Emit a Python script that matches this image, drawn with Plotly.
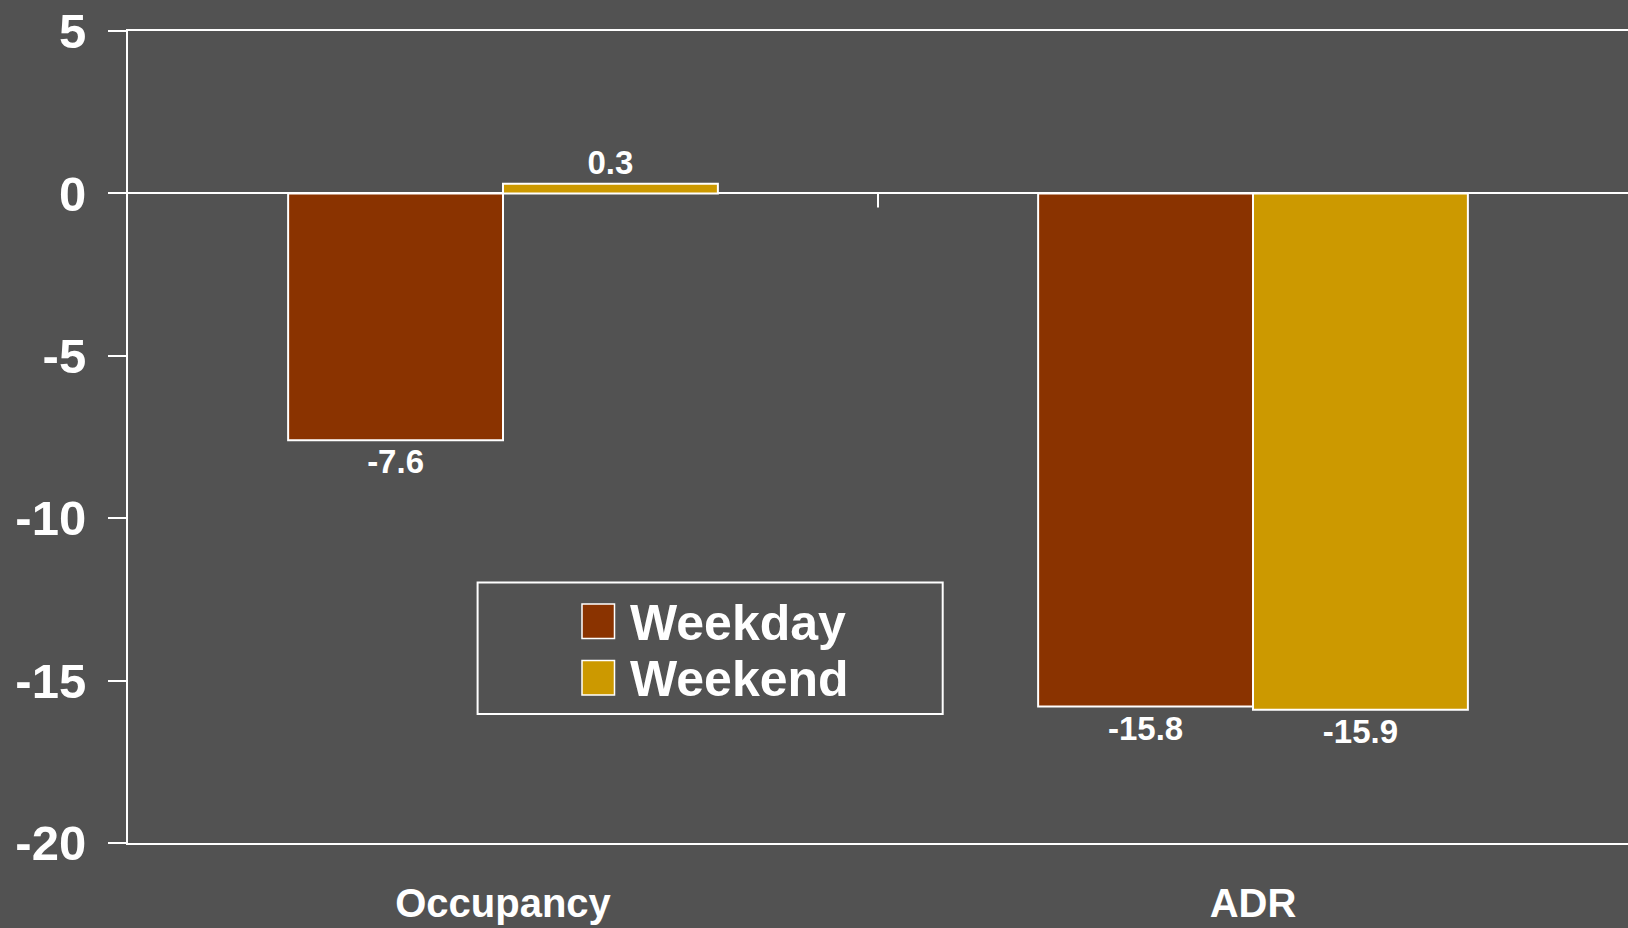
import plotly.graph_objects as go

categories = ["Occupancy", "ADR"]
series_names = ["Weekday", "Weekend"]
weekday_values = [-7.6, -15.8]
weekend_values = [0.3, -15.9]
y_tick_values = [-20, -15, -10, -5, 0, 5]
y_tick_labels = ["-20", "-15", "-10", "-5", "0", "5"]

BG = "#525252"
C_WEEKDAY = "#8A3300"
C_WEEKEND = "#CC9900"
FONT = "Liberation Sans, Arial, sans-serif"

fig = go.Figure()
for name, vals, col in [(series_names[0], weekday_values, C_WEEKDAY),
                        (series_names[1], weekend_values, C_WEEKEND)]:
    fig.add_trace(go.Bar(
        x=categories, y=vals, name=name,
        marker=dict(color=col, line=dict(color="white", width=2)),
        text=[f"{v:.1f}" for v in vals], textposition="outside",
        textfont=dict(color="white", size=33, family=FONT, weight="bold"),
        cliponaxis=False, showlegend=False,
    ))

# legend drawn as box + squares + text
W = 1500.0
H = 812.0
def px(x):
    return (x - 128) / W
def py(y):
    return (843 - y) / H

shapes = [
    dict(type="rect", xref="paper", yref="paper", x0=px(477.6), x1=px(942.7),
         y0=py(714), y1=py(582.5), line=dict(color="white", width=2), fillcolor="rgba(0,0,0,0)"),
    dict(type="rect", xref="paper", yref="paper", x0=px(582), x1=px(614.5),
         y0=py(638.5), y1=py(604), line=dict(color="white", width=1.5), fillcolor=C_WEEKDAY),
    dict(type="rect", xref="paper", yref="paper", x0=px(582), x1=px(614.5),
         y0=py(695), y1=py(660.5), line=dict(color="white", width=1.5), fillcolor=C_WEEKEND),
    # category divider tick at zero line
    dict(type="line", xref="x", yref="y", x0=0.5, x1=0.5, ysizemode="pixel",
         yanchor=0, y0=0, y1=-14, line=dict(color="white", width=2)),
]
annotations = [
    dict(xref="paper", yref="paper", x=px(628), y=py(623), text=series_names[0],
         showarrow=False, xanchor="left", yanchor="middle",
         font=dict(color="white", size=50, family=FONT, weight="bold")),
    dict(xref="paper", yref="paper", x=px(628), y=py(679), text=series_names[1],
         showarrow=False, xanchor="left", yanchor="middle",
         font=dict(color="white", size=50, family=FONT, weight="bold")),
]

fig.update_layout(
    width=1628, height=928,
    paper_bgcolor=BG, plot_bgcolor=BG,
    margin=dict(l=128, r=0, t=31, b=85, autoexpand=False),
    barmode="group", bargap=0.427, bargroupgap=0,
    showlegend=False,
    shapes=shapes, annotations=annotations,
    xaxis=dict(
        range=[-0.5, 1.5], showgrid=False, zeroline=False,
        showline=True, mirror=True, linecolor="white", linewidth=2,
        ticks="", ticklabelstandoff=24,
        tickfont=dict(color="white", size=40, family=FONT, weight="bold"),
    ),
    yaxis=dict(
        range=[-20, 5], tickvals=y_tick_values, ticktext=y_tick_labels,
        showgrid=False, zeroline=True, zerolinecolor="white", zerolinewidth=2,
        showline=True, linecolor="white", linewidth=2,
        ticks="outside", ticklen=18, tickwidth=2, tickcolor="white",
        ticklabelstandoff=12,
        tickfont=dict(color="white", size=49, family=FONT, weight="bold"),
    ),
)

fig.write_html("out.html",
               config={"displayModeBar": False},
               post_script="document.body.style.margin='0';document.body.style.background='#525252';")
